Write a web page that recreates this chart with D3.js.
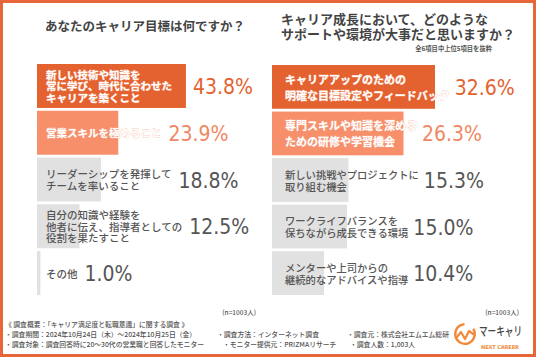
<!DOCTYPE html>
<html><head><meta charset="utf-8">
<script src="https://cdn.jsdelivr.net/npm/d3@7"></script>
<style>
html,body{margin:0;padding:0;background:#fff;}
svg{display:block;}
</style></head>
<body>
<script>
const leftTitle = "あなたのキャリア目標は何ですか？";
const leftCategories = [
  "新しい技術や知識を\n常に学び、時代に合わせた\nキャリアを築くこと",
  "営業スキルを極めること",
  "リーダーシップを発揮して\nチームを率いること",
  "自分の知識や経験を\n他者に伝え、指導者としての\n役割を果たすこと",
  "その他"
];
const leftValues = [43.8, 23.9, 18.8, 12.5, 1.0];

const rightTitle = ["キャリア成長において、どのような", "サポートや環境が大事だと思いますか？"];
const rightNote = "全6項目中上位5項目を抜粋";
const rightCategories = [
  "キャリアアップのための\n明確な目標設定やフィードバック",
  "専門スキルや知識を深める\nための研修や学習機会",
  "新しい挑戦やプロジェクトに\n取り組む機会",
  "ワークライフバランスを\n保ちながら成長できる環境",
  "メンターや上司からの\n継続的なアドバイスや指導"
];
const rightValues = [32.6, 26.3, 15.3, 15.0, 10.4];

const sampleNote = "(n=1003人)";
const footerTitle = "《 調査概要：「キャリア満足度と転職意識」に関する調査 》";
const footerCol1 = ["・調査期間：2024年10月24日（木）～2024年10月25日（金）", "・調査対象：調査回答時に20～30代の営業職と回答したモニター"];
const footerCol2 = ["・調査方法：インターネット調査", "・モニター提供元：PRIZMAリサーチ"];
const footerCol3 = ["・調査元：株式会社エムエム総研", "・調査人数：1,003人"];

const W = 536, H = 357;
const ORANGE = "#e4622f", LIGHT = "#f78f6b", GREY = "#e1e1e1";
const JP = "'Noto Sans CJK JP','Noto Sans CJK SC',sans-serif";
const NUM = "'Liberation Sans Narrow','DejaVu Sans Condensed',sans-serif";

const svg = d3.select("body").append("svg").attr("width", W).attr("height", H);
svg.append("rect").attr("x",1.5).attr("y",1.5).attr("width",W-3).attr("height",H-3)
  .attr("fill","#fff").attr("stroke","#e8673a").attr("stroke-width",3);

function panel(cats, vals, opt) {
  const x = d3.scaleLinear().domain(opt.domain).range(opt.range);
  const y = d3.scaleBand().domain(d3.range(cats.length)).range(opt.yRange).paddingInner(0.06);
  const g = svg.append("g");
  const barColor = i => i === 0 ? ORANGE : i === 1 ? LIGHT : GREY;
  const valColor = i => i === 0 ? ORANGE : i === 1 ? "#f08863" : "#555";
  g.selectAll("rect.bar").data(vals).join("rect").attr("class","bar")
    .attr("x", x(0)).attr("y", (d,i)=>y(i))
    .attr("width", d => x(d) - x(0)).attr("height", y.bandwidth())
    .attr("fill", (d,i)=>barColor(i));
  cats.forEach((c, i) => {
    const lines = c.split("\n");
    const lh = opt.lineHeight(i);
    const cy = y(i) + y.bandwidth()/2;
    let maxEnd = 0;
    lines.forEach((ln, k) => {
      const t = g.append("text")
        .attr("font-family", JP).attr("font-size", opt.fontSize(i))
        .attr("font-weight", i < 2 ? 700 : 500)
        .attr("fill", i < 2 ? "#fff" : "#555")
        .attr("x", x(0) + opt.pad)
        .attr("y", cy + (k - (lines.length-1)/2) * lh)
        .attr("dominant-baseline","central").text(ln);
      if (i < 2) t.attr("stroke", "#f6bba5").attr("stroke-width", 0.6).attr("paint-order","stroke");
      maxEnd = Math.max(maxEnd, x(0) + opt.pad + t.node().getComputedTextLength());
    });
    const vx = Math.max(maxEnd, x(vals[i])) + opt.gap;
    g.append("text").attr("x", vx).attr("y", cy + 1)
      .attr("dominant-baseline","central")
      .attr("font-family", NUM).attr("font-size", 21)
      .attr("fill", valColor(i)).text(vals[i].toFixed(1) + "%");
  });
}

panel(leftCategories, leftValues, {
  domain:[0,50], range:[37,207], yRange:[64,295], pad:9, gap:7,
  fontSize: i => 10.5, lineHeight: i => 11.5
});
panel(rightCategories, rightValues, {
  domain:[0,40], range:[272,472], yRange:[65,295], pad:13, gap:5,
  fontSize: i => i < 2 ? 11 : 10.3, lineHeight: i => i < 2 ? 16 : 12
});

// titles
svg.append("text").attr("x",45).attr("y",25).attr("dominant-baseline","central")
  .attr("font-family",JP).attr("font-size",12.5).attr("font-weight",700).attr("fill","#444")
  .text(leftTitle);
rightTitle.forEach((t,k)=>{
  svg.append("text").attr("x",281).attr("y",18 + k*15.5).attr("dominant-baseline","central")
    .attr("font-family",JP).attr("font-size",13).attr("font-weight",700).attr("fill","#444")
    .text(t);
});
svg.append("text").attr("x",492).attr("y",48).attr("text-anchor","end").attr("dominant-baseline","central")
  .attr("font-family",JP).attr("font-size",6.3).attr("font-weight",700).attr("fill","#555").text(rightNote);

[256, 519].forEach(xe=>{
  svg.append("text").attr("x",xe).attr("y",312).attr("text-anchor","end").attr("dominant-baseline","central")
    .attr("font-family",JP).attr("font-size",6.5).attr("font-weight",500).attr("fill","#555").text(sampleNote);
});

// footer
const ft = (x, y, t) => svg.append("text").attr("x", x).attr("y", y).attr("dominant-baseline","central")
  .attr("font-family",JP).attr("font-size",6.8).attr("font-weight",500).attr("fill","#555").text(t);
ft(5, 324, footerTitle);
footerCol1.forEach((t,k)=>ft(5, 334 + k*10, t));
footerCol2.forEach((t,k)=>ft(k ? 223 : 217, 334 + k*10, t));
footerCol3.forEach((t,k)=>ft(k ? 350 : 347, 334 + k*10, t));

// logo
const lg = svg.append("g");
const arc = d3.arc().innerRadius(8.6).outerRadius(11)
  .startAngle(Math.PI*0.32).endAngle(Math.PI*2 - 0.05);
lg.append("path").attr("d", arc()).attr("transform","translate(465,334)").attr("fill","#f08a3c");
lg.append("polyline").attr("points","457,337 461,332 465,339 469,331 473,334")
  .attr("fill","none").attr("stroke","#f08a3c").attr("stroke-width",2.2)
  .attr("stroke-linejoin","round").attr("stroke-linecap","round");
lg.append("text").attr("transform","translate(479,331) scale(0.72,1)").attr("dominant-baseline","central")
  .attr("font-family",JP).attr("font-size",12).attr("font-weight",500).attr("fill","#444")
  .text("マーキャリ");
lg.append("text").attr("x",481).attr("y",347).attr("dominant-baseline","central")
  .attr("font-family","'DejaVu Sans',sans-serif").attr("font-size",5.2).attr("font-weight",700).attr("fill","#f08a3c")
  .attr("textLength",38).text("NEXT CAREER");
</script>
</body></html>
